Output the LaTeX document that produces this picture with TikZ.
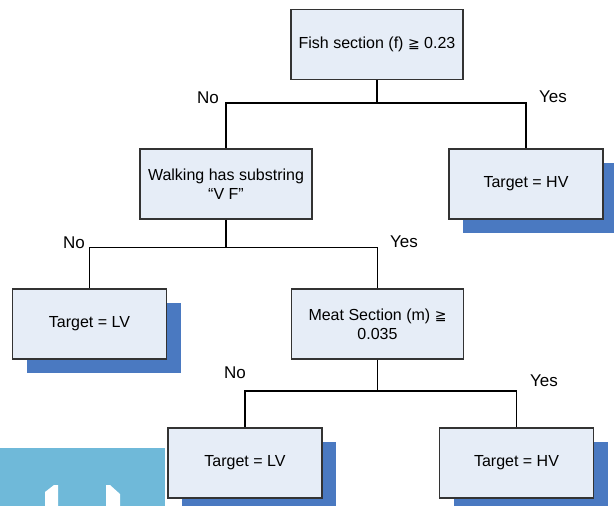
\documentclass[tikz,border=0pt]{standalone}
\usepackage{fontspec}
\setmainfont{Liberation Sans}
\newfontfamily\symfont{DejaVu Sans}
\usetikzlibrary{shadows}
\definecolor{boxfill}{RGB}{230,237,247}
\definecolor{shadowblue}{RGB}{74,121,193}
\definecolor{skyblue}{RGB}{111,185,217}
\newcommand{\fgeq}{{\symfont\fontsize{14}{19}\selectfont\char"2267}}
\tikzset{
	testbox/.style={draw=black!80, line width=1.3pt, fill=boxfill, minimum width=172pt, minimum height=70pt, inner sep=0pt, align=center, font=\fontsize{16}{19}\selectfont},
	leafbox/.style={testbox, minimum width=154pt, drop shadow={shadow xshift=14pt, shadow yshift=-14pt, fill=shadowblue, opacity=1}},
	branch/.style={line width=1.8pt},
	answer/.style={font=\fontsize{17}{19}\selectfont}
}
\begin{document}
\begin{tikzpicture}[x=1pt,y=-1pt]
				\useasboundingbox (0,0) rectangle (614,506);
				\clip (0,0) rectangle (614,506);
				\fill[skyblue] (0,448) rectangle (165,506);
				\fill[white] (45,506)--(45,492)--(54,485)--(58,485)--(58,506)--cycle;
				\fill[white] (106,506)--(106,485)--(110,485)--(120,494)--(120,506)--cycle;
				\node[testbox] (fish) at (377,44.5) {Fish section (f) \fgeq\ 0.23};
				\node[testbox] (walk) at (226,184) {Walking has substring\\``V F''};
				\node[leafbox] (hvtop) at (526,184) {Target = HV};
				\node[leafbox] (lvleft) at (89.5,324) {Target = LV};
				\node[testbox] (meat) at (377.5,324) {Meat Section (m) \fgeq\\0.035};
				\node[leafbox] (lvbot) at (245,463) {Target = LV};
				\node[leafbox] (hvbot) at (516.5,463) {Target = HV};
				\coordinate (j1) at (377,103);
				\coordinate (j2) at (226,247.5);
				\coordinate (j3) at (377.5,391);
				\draw[branch] (fish.south) -- (j1) -| (walk.north);
				\draw[branch] (j1) -| (hvtop.north);
				\draw[branch] (walk.south) -- (j2) -| (lvleft.north);
				\draw[branch] (j2) -| (meat.north);
				\draw[branch] (meat.south) -- (j3) -| (lvbot.north);
				\draw[branch] (j3) -| (hvbot.north);
				\node[answer] (no1) at (208,98) {No};
				\node[answer] (yes1) at (553,97) {Yes};
				\node[answer] (no2) at (74,243) {No};
				\node[answer] (yes2) at (404,242) {Yes};
				\node[answer] (no3) at (235,373) {No};
				\node[answer] (yes3) at (544,381) {Yes};
\end{tikzpicture}
\end{document}
